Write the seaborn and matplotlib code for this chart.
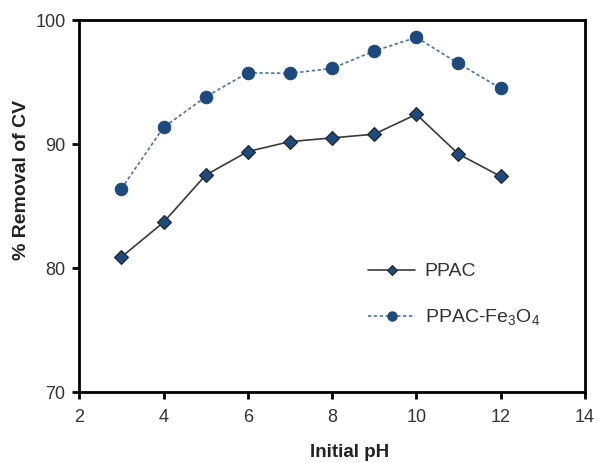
import matplotlib
matplotlib.use("Agg")
import matplotlib.pyplot as plt
import seaborn as sns
import pandas as pd

ph = [3, 4, 5, 6, 7, 8, 9, 10, 11, 12]
ppac = [80.9, 83.7, 87.5, 89.4, 90.2, 90.5, 90.8, 92.4, 89.2, 87.4]
ppac_fe = [86.4, 91.35, 93.8, 95.75, 95.7, 96.1, 97.5, 98.6, 96.5, 94.5]

data = pd.DataFrame({"ph": ph, "PPAC": ppac, "PPAC-Fe$_3$O$_4$": ppac_fe})

sns.set_style("white")
plt.rcParams["font.family"] = ["Liberation Sans", "DejaVu Sans"]
plt.rcParams["mathtext.fontset"] = "custom"
plt.rcParams["mathtext.rm"] = "Liberation Sans"

fig = plt.figure(figsize=(5.98, 4.63), dpi=100)
ax = fig.add_axes([0.1326, 0.1527, 0.978 - 0.1326, 0.9568 - 0.1527])

navy = "#1c4a7e"

sns.lineplot(
    data=data, x="ph", y="PPAC", ax=ax,
    color="#3a3a3a", linewidth=1.2, marker="D", markersize=7,
    markerfacecolor=navy, markeredgecolor="#222222", markeredgewidth=0.8,
    label="PPAC"
)
sns.lineplot(
    data=data, x="ph", y="PPAC-Fe$_3$O$_4$", ax=ax,
    color="#4a72a8", linewidth=1.2, linestyle=(0, (2, 1.5)), marker="o",
    markersize=9, markerfacecolor=navy, markeredgecolor=navy,
    label="PPAC-Fe$_3$O$_4$"
)

ax.set_xlim(2, 14)
ax.set_ylim(70, 100)
ax.set_xticks([2, 4, 6, 8, 10, 12, 14])
ax.set_yticks([70, 80, 90, 100])

for s in ax.spines.values():
    s.set_color("black")
    s.set_linewidth(2)

ax.tick_params(axis="both", direction="out", length=5, width=2,
               color="black", labelsize=13, labelcolor="#333333", pad=5)
ax.tick_params(axis="x", bottom=True, pad=7)
ax.tick_params(axis="y", left=True)

ax.set_xlabel("Initial pH", fontsize=13.5, fontweight="bold", color="#222222")
ax.set_ylabel("% Removal of CV", fontsize=14, fontweight="bold", color="#222222")
ax.xaxis.set_label_coords(0.535, -0.14)
ax.yaxis.set_label_coords(-0.098, 0.57)

leg = ax.legend(
    loc="upper left", bbox_to_anchor=(0.537, 0.395), frameon=False,
    fontsize=14, labelspacing=1.4, handlelength=2.4, handletextpad=0.5,
    labelcolor="#333333", markerscale=0.75
)

fig.savefig("out.png", dpi=100)
